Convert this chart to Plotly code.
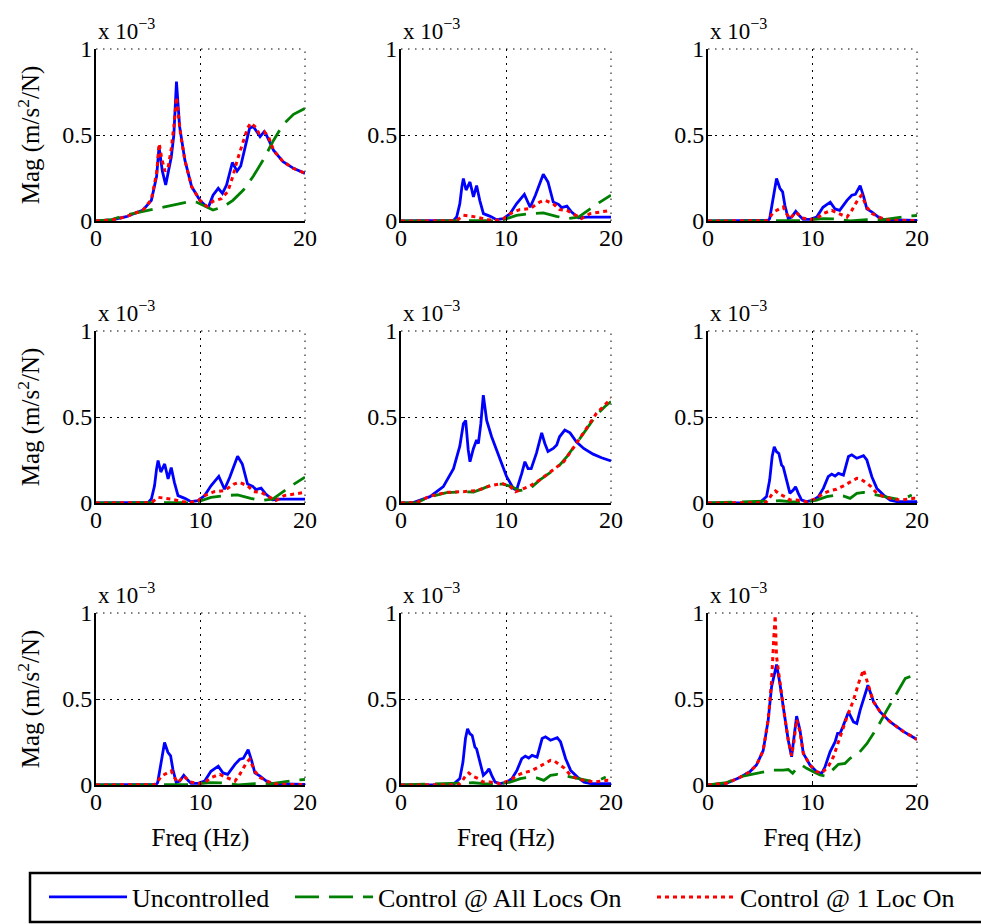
import plotly.graph_objects as go

# Frequency response magnitudes in units of 1e-3 m/s^2/N, given as (freq Hz, magnitude)
# knots. The response matrix is reciprocal (H_ij == H_ji), so only the pairs with
# i <= j are listed; each pair has the uncontrolled response and the two controlled cases.

h11_unc = [(0, 0), (1.5, 0.006), (2.9, 0.025), (4.5, 0.064), (5.3, 0.12), (5.8, 0.26), (6.03, 0.43),
           (6.2, 0.36), (6.35, 0.29), (6.67, 0.21), (6.9, 0.28), (7.2, 0.37), (7.45, 0.5), (7.7, 0.81),
           (7.85, 0.68), (8.0, 0.55), (8.5, 0.355), (9.15, 0.2), (9.95, 0.12), (10.5, 0.087), (10.75, 0.08),
           (11.2, 0.15), (11.7, 0.19), (12.1, 0.16), (12.5, 0.21), (13.05, 0.34), (13.5, 0.29), (13.85, 0.32),
           (14.35, 0.45), (14.7, 0.54), (15.05, 0.55), (15.7, 0.49), (16.1, 0.52), (16.3, 0.5), (17.0, 0.41),
           (17.9, 0.345), (18.9, 0.306), (20, 0.277)]
h11_all = [(0, 0), (1.5, 0.008), (2.9, 0.035), (5.2, 0.064), (6.75, 0.087), (8.0, 0.1), (9.0, 0.114),
           (9.6, 0.11), (10.2, 0.093), (11.2, 0.064), (12.2, 0.083), (13.1, 0.12), (14.1, 0.18), (15.05, 0.26),
           (16.0, 0.355), (17.0, 0.47), (17.9, 0.56), (18.9, 0.62), (20, 0.655)]
h11_one = [(0, 0), (1.5, 0.006), (2.9, 0.025), (4.5, 0.064), (5.3, 0.125), (5.8, 0.28), (6.05, 0.45),
           (6.3, 0.36), (6.6, 0.29), (6.9, 0.31), (7.2, 0.42), (7.45, 0.55), (7.7, 0.72), (7.9, 0.6),
           (8.1, 0.5), (8.5, 0.355), (9.15, 0.2), (9.95, 0.12), (10.6, 0.085), (11.2, 0.115), (12.0, 0.13),
           (12.6, 0.17), (13.1, 0.26), (13.5, 0.35), (14.0, 0.45), (14.5, 0.54), (14.8, 0.57), (15.2, 0.55),
           (15.6, 0.51), (16.1, 0.52), (16.5, 0.49), (17.0, 0.41), (17.9, 0.345), (18.9, 0.306), (20, 0.277)]

h12_unc = [(0, 0), (5.0, 0.003), (5.3, 0.023), (5.6, 0.1), (5.8, 0.2), (5.94, 0.247), (6.2, 0.18),
           (6.57, 0.227), (6.9, 0.14), (7.2, 0.206), (7.5, 0.12), (7.85, 0.043), (8.5, 0.027), (9.1, 0.008),
           (9.75, 0.014), (10.4, 0.043), (11.0, 0.1), (11.75, 0.155), (12.3, 0.08), (12.8, 0.15),
           (13.55, 0.272), (14.0, 0.227), (14.5, 0.11), (15.0, 0.097), (15.3, 0.078), (15.8, 0.087),
           (16.25, 0.052), (16.9, 0.019), (17.7, 0.023), (20, 0.023)]
h12_all = [(0, 0), (6.9, 0.004), (8.15, 0.002), (9.4, 0.0), (10.4, 0.023), (11.0, 0.033), (12.3, 0.043),
           (13.55, 0.047), (14.8, 0.027), (15.8, 0.014), (16.9, 0.023), (17.7, 0.058), (18.95, 0.11),
           (20, 0.15)]
h12_one = [(0, 0), (5.0, 0.002), (5.46, 0.01), (5.94, 0.033), (6.57, 0.028), (7.2, 0.023), (8.15, 0.008),
           (9.1, 0.004), (9.75, 0.012), (10.4, 0.043), (11.3, 0.066), (12.3, 0.072), (13.2, 0.11),
           (13.7, 0.12), (14.5, 0.1), (15.1, 0.066), (15.8, 0.062), (16.6, 0.033), (17.2, 0.014),
           (18.0, 0.043), (20, 0.062)]

h13_unc = [(0, 0), (5.76, 0.004), (5.9, 0.014), (6.24, 0.14), (6.56, 0.247), (6.88, 0.19), (7.14, 0.17),
           (7.36, 0.09), (7.68, 0.014), (8.0, 0.023), (8.4, 0.056), (8.8, 0.027), (9.1, 0.01), (9.76, 0.01),
           (10.4, 0.023), (11.0, 0.08), (11.7, 0.11), (12.16, 0.07), (12.6, 0.062), (13.3, 0.12),
           (13.76, 0.15), (14.1, 0.155), (14.56, 0.206), (14.9, 0.14), (15.2, 0.07), (15.7, 0.052),
           (16.3, 0.023), (16.8, 0.008), (20, 0.004)]
h13_all = [(0, 0), (7.2, 0.003), (8.8, 0.002), (11.0, 0.014), (12.3, 0.012), (13.6, 0.0), (15.2, 0.008),
           (16.8, 0.008), (18.1, 0.02), (19.4, 0.03), (20, 0.032)]
h13_one = [(0, 0), (5.6, 0.002), (5.86, 0.014), (6.24, 0.052), (6.7, 0.066), (7.2, 0.082), (7.5, 0.043),
           (7.84, 0.014), (8.4, 0.052), (8.96, 0.019), (9.76, 0.008), (10.4, 0.014), (11.0, 0.043),
           (11.84, 0.062), (12.5, 0.043), (13.3, 0.023), (13.76, 0.062), (14.4, 0.13), (14.7, 0.15),
           (15.2, 0.08), (15.7, 0.043), (16.5, 0.019), (17.4, 0.004), (20, 0.003)]

h22_unc = [(0, 0), (1.17, 0.002), (2.76, 0.037), (4.03, 0.095), (5.0, 0.2), (5.6, 0.33), (5.94, 0.46),
           (6.16, 0.48), (6.4, 0.31), (6.57, 0.24), (6.9, 0.317), (7.2, 0.366), (7.37, 0.346), (7.6, 0.46),
           (7.84, 0.627), (8.16, 0.48), (8.63, 0.385), (9.43, 0.25), (10.06, 0.153), (10.7, 0.085),
           (11.0, 0.075), (11.5, 0.172), (11.8, 0.24), (12.1, 0.2), (12.4, 0.2), (12.9, 0.29), (13.4, 0.408),
           (13.7, 0.346), (14.0, 0.3), (14.5, 0.317), (14.83, 0.337), (15.1, 0.385), (15.6, 0.424),
           (16.1, 0.408), (16.7, 0.356), (17.4, 0.317), (18.3, 0.284), (19.1, 0.263), (20, 0.244)]
h22_all = [(0, 0), (1.5, 0.002), (2.76, 0.037), (4.35, 0.06), (5.94, 0.066), (6.9, 0.064), (7.84, 0.085),
           (8.8, 0.11), (9.75, 0.11), (10.5, 0.095), (11.3, 0.072), (12.3, 0.085), (13.2, 0.133),
           (14.2, 0.176), (15.1, 0.22), (15.8, 0.27), (16.7, 0.346), (17.7, 0.433), (18.6, 0.51),
           (19.4, 0.56), (20, 0.59)]
h22_one = [(0, 0), (1.5, 0.003), (2.76, 0.04), (4.35, 0.062), (5.94, 0.066), (7.2, 0.072), (8.5, 0.1),
           (9.6, 0.114), (10.4, 0.095), (10.9, 0.066), (11.3, 0.075), (12.3, 0.1), (13.2, 0.133),
           (14.2, 0.18), (15.5, 0.24), (16.7, 0.346), (17.7, 0.44), (18.6, 0.52), (20, 0.607)]

h23_unc = [(0, 0), (4.96, 0.002), (5.6, 0.037), (5.9, 0.133), (6.14, 0.27), (6.34, 0.327), (6.56, 0.298),
           (6.78, 0.288), (7.04, 0.22), (7.2, 0.21), (7.52, 0.133), (7.84, 0.056), (8.16, 0.075),
           (8.38, 0.095), (8.64, 0.056), (8.96, 0.017), (9.44, 0.008), (10.08, 0.017), (10.56, 0.037),
           (11.04, 0.085), (11.5, 0.153), (11.84, 0.168), (12.16, 0.157), (12.48, 0.172), (12.96, 0.162),
           (13.44, 0.27), (13.76, 0.28), (14.24, 0.26), (14.88, 0.275), (15.2, 0.25), (15.68, 0.153),
           (16.16, 0.085), (16.8, 0.046), (17.44, 0.017), (18.08, 0.008), (20, 0.008)]
h23_all = [(0, 0), (6.88, 0.013), (7.84, 0.008), (9.44, 0.006), (10.4, 0.017), (11.36, 0.037), (12.3, 0.046),
           (13.0, 0.04), (13.6, 0.027), (14.24, 0.056), (14.88, 0.062), (15.68, 0.052), (16.8, 0.037),
           (18.08, 0.023), (19.04, 0.033), (19.5, 0.046)]
h23_one = [(0, 0), (5.5, 0.002), (5.76, 0.017), (6.18, 0.056), (6.46, 0.07), (6.88, 0.05), (7.36, 0.037),
           (7.84, 0.017), (8.48, 0.017), (9.44, 0.008), (10.4, 0.027), (11.04, 0.056), (11.68, 0.072),
           (12.3, 0.08), (12.96, 0.1), (13.6, 0.124), (14.24, 0.143), (14.6, 0.14), (15.1, 0.12),
           (15.52, 0.1), (16.16, 0.056), (16.8, 0.037), (17.44, 0.027), (18.4, 0.017), (19.7, 0.027),
           (20, 0.027)]

h33_unc = [(0, 0), (1.76, 0.01), (3.04, 0.044), (4.0, 0.077), (4.64, 0.116), (5.28, 0.2), (5.76, 0.377),
           (6.08, 0.57), (6.56, 0.70), (6.88, 0.59), (7.2, 0.455), (7.68, 0.26), (8.0, 0.164), (8.22, 0.26),
           (8.48, 0.40), (8.8, 0.32), (9.12, 0.184), (9.76, 0.116), (10.4, 0.077), (10.88, 0.068),
           (11.2, 0.106), (11.68, 0.193), (12.16, 0.25), (12.4, 0.30), (12.64, 0.30), (12.9, 0.338),
           (13.44, 0.425), (13.92, 0.367), (14.24, 0.358), (14.56, 0.435), (15.3, 0.58), (15.84, 0.484),
           (16.48, 0.425), (17.44, 0.367), (18.72, 0.31), (20, 0.265)]
h33_all = [(0, 0), (1.76, 0.013), (3.04, 0.048), (4.64, 0.068), (6.24, 0.087), (7.2, 0.087), (7.68, 0.09),
           (8.1, 0.068), (8.48, 0.097), (8.96, 0.116), (9.44, 0.097), (10.08, 0.077), (10.72, 0.058),
           (11.2, 0.052), (11.84, 0.083), (12.48, 0.12), (13.12, 0.126), (13.6, 0.155), (14.4, 0.184),
           (15.2, 0.24), (16.16, 0.33), (17.12, 0.435), (18.08, 0.54), (18.88, 0.62), (19.68, 0.638),
           (20, 0.634)]
h33_one = [(0, 0), (1.76, 0.01), (3.04, 0.044), (4.0, 0.077), (4.64, 0.116), (5.28, 0.2), (5.76, 0.38),
           (6.08, 0.6), (6.3, 0.86), (6.43, 0.986), (6.56, 0.745), (6.88, 0.59), (7.2, 0.455), (7.68, 0.26),
           (8.0, 0.17), (8.22, 0.25), (8.48, 0.38), (8.8, 0.31), (9.12, 0.184), (9.76, 0.116), (10.4, 0.077),
           (10.88, 0.07), (11.5, 0.106), (12.0, 0.164), (12.64, 0.28), (13.3, 0.396), (13.9, 0.49),
           (14.4, 0.59), (14.88, 0.67), (15.36, 0.57), (15.84, 0.484), (16.48, 0.425), (17.44, 0.367),
           (18.72, 0.31), (20, 0.265)]

series_names = ["Uncontrolled", "Control @ All Locs On", "Control @ 1 Loc On"]
x_ticks = [0, 10, 20]
y_ticks = [0, 0.5, 1]
y_tick_text = ["0", "0.5", "1"]

responses = {
    (1, 1): (h11_unc, h11_all, h11_one),
    (1, 2): (h12_unc, h12_all, h12_one),
    (1, 3): (h13_unc, h13_all, h13_one),
    (2, 2): (h22_unc, h22_all, h22_one),
    (2, 3): (h23_unc, h23_all, h23_one),
    (3, 3): (h33_unc, h33_all, h33_one),
}

# ---- styling / layout ----
FONT = '"Liberation Serif", "Times New Roman", Times, serif'
W, H = 981, 924
col_px = [(96, 305), (401, 611), (708, 917)]
row_px = [(49, 221), (331, 503), (613, 785)]
line_styles = [
    dict(color="#0000ff", width=2.8, dash="solid"),
    dict(color="#008000", width=2.8, dash="24px,10px"),
    dict(color="#ff0000", width=3, dash="4px,4px"),
]
legend_ids = ["legend", "legend2", "legend3"]
legend_left_px = [44, 290, 652]   # left edge of each legend entry
tick_font = dict(family=FONT, size=24, color="black")
title_font = dict(family=FONT, size=25, color="black")

fig = go.Figure()
layout = dict(
    template="none",
    width=W, height=H, margin=dict(l=0, r=0, t=0, b=0, autoexpand=False),
    paper_bgcolor="white", plot_bgcolor="white",
    font=dict(family=FONT, size=24, color="black"),
    showlegend=True,
)
annotations = []
shapes = []
dot_grid = "1.5px,5.5px"

k = 0
for r in range(3):
    for c in range(3):
        k += 1
        sfx = "" if k == 1 else str(k)
        xa, ya = "x" + sfx, "y" + sfx
        key = (min(r, c) + 1, max(r, c) + 1)
        for s, (name, data, style) in enumerate(zip(series_names, responses[key], line_styles)):
            fig.add_trace(go.Scatter(
                x=[p[0] for p in data], y=[p[1] for p in data],
                mode="lines", name=name, line=style,
                xaxis=xa, yaxis=ya, legend=legend_ids[s], showlegend=(k == 1),
            ))
        x0, x1 = col_px[c]
        y0, y1 = row_px[r]
        grid = dict(showgrid=True, gridcolor="black", gridwidth=1, griddash=dot_grid,
                    showline=True, linecolor="black", linewidth=2, zeroline=False,
                    ticks="inside", ticklen=4, tickcolor="black", mirror=False,
                    tickfont=tick_font)
        xax = dict(domain=[x0 / W, x1 / W], range=[0, 20], tickvals=x_ticks, anchor=ya,
                   ticklabelstandoff=-6, **grid)
        if r == 2:
            xax["title"] = dict(text="Freq (Hz)", font=title_font, standoff=15)
        yax = dict(domain=[1 - y1 / H, 1 - y0 / H], range=[0, 1], tickvals=y_ticks,
                   ticktext=y_tick_text, anchor=xa, ticklabelstandoff=-3, **grid)
        if c == 0:
            yax["title"] = dict(text="Mag (m/s<sup>2</sup>/N)", font=title_font, standoff=15)
        layout["xaxis" + sfx] = xax
        layout["yaxis" + sfx] = yax
        # dotted grid lines along the top and right edges of the axes box
        edge = dict(type="line", xref=xa + " domain", yref=ya + " domain",
                    line=dict(color="black", width=1, dash=dot_grid), layer="below")
        shapes.append(dict(edge, x0=0, x1=1, y0=1, y1=1))
        shapes.append(dict(edge, x0=1, x1=1, y0=0, y1=1))
        annotations.append(dict(
            text="x 10<sup>\u22123</sup>", xref=xa + " domain", yref=ya + " domain",
            x=0, y=1, xanchor="left", yanchor="bottom", yshift=3, showarrow=False,
            font=dict(family=FONT, size=23, color="black"),
        ))

# frame around the legend row
shapes.append(dict(type="rect", xref="paper", yref="paper",
                   x0=30 / W, x1=1.02, y0=1 - 922 / H, y1=1 - 873 / H,
                   line=dict(color="black", width=2.5), fillcolor="white", layer="below"))

for lid, left in zip(legend_ids, legend_left_px):
    layout[lid] = dict(
        orientation="h", x=left / W, xanchor="left", y=1 - 897 / H, yanchor="middle",
        borderwidth=0, bgcolor="rgba(0,0,0,0)", itemwidth=78,
        font=dict(family=FONT, size=26, color="black"),
    )

layout["annotations"] = annotations
layout["shapes"] = shapes
fig.update_layout(**layout)
fig.write_html("out.html")
